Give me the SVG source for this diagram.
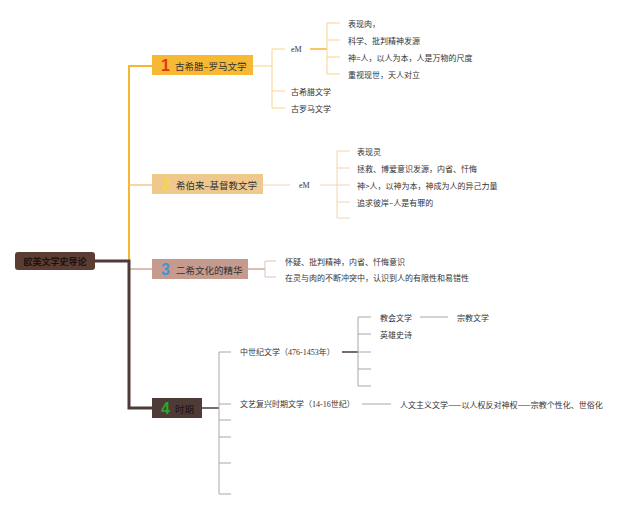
<svg xmlns="http://www.w3.org/2000/svg" width="640" height="508" viewBox="0 0 640 508">
<style>
text{font-family:"Noto Sans CJK SC","Liberation Sans",sans-serif;dominant-baseline:central;fill:#333}
.s{font-size:8px}
.m{font-size:9.5px;fill:#333}
.n{font-size:16px;font-weight:bold;font-family:"Liberation Sans","Noto Sans CJK SC",sans-serif}
.se{font-family:"Liberation Serif","Noto Sans CJK SC",serif}
.l{fill:none;stroke-linecap:butt}
</style>
<rect width="640" height="508" fill="#fff"/>
<g id="connectors">
<path class="l" d="M129 261V66H152" stroke="#f5b731" stroke-width="2"/>
<path class="l" d="M129 185H152" stroke="#f0c98a" stroke-width="1.5"/>
<path class="l" d="M129 269H152" stroke="#d4a59a" stroke-width="1.5"/>
<path class="l" d="M95 261H129V408H152" stroke="#4e3b38" stroke-width="3"/>
<g stroke="#fad58a" stroke-width="1" fill="none">
<path d="M253 66H272M272 49V108M272 49H285M272 91H285M272 108H285"/>
<path d="M310 49H327" stroke="#f5b731" stroke-width="1.5"/>
<path d="M327 23V74M327 23H340M327 40H340M327 57H340M327 74H340"/>
</g>
<g stroke="#f0d3b0" stroke-width="1" fill="none">
<path d="M263 185H290M320 185H337M337 151V218M337 151H350M337 168H350M337 185H350M337 202H350M337 218H350"/>
</g>
<g stroke="#d9c3bd" stroke-width="1" fill="none">
<path d="M248 269H265" stroke="#d4a59a" stroke-width="1.5"/>
<path d="M265 261V277M265 261H276M265 277H276"/>
</g>
<g stroke="#a8a8a8" stroke-width="1" fill="none">
<path d="M202 408H219" stroke="#4e3b38" stroke-width="1.5"/>
<path d="M219 352V494M219 352H231M219 404H231M219 420H231M219 437H231M219 463H231M219 494H231"/>
<path d="M342 352H358" stroke="#4e3b38" stroke-width="1.5"/>
<path d="M358 317V386M358 317H371M358 334H371M358 352H371M358 369H371M358 386H371"/>
<path d="M420 317H448"/>
<path d="M362 404H391"/>
</g>
</g>
<g id="root">
<rect x="15" y="252" width="80" height="18" rx="3" fill="#5c3d33"/>
<text x="55" y="261.5" text-anchor="middle" style="font-size:9px;font-weight:bold;fill:#1e1210">欧美文学史导论</text>
</g>
<g id="node1">
<rect x="152" y="55" width="101" height="20" fill="#f7b934"/>
<text class="n" x="161" y="65.5" fill="#e8321c" style="fill:#e8321c">1</text>
<text class="m" x="175" y="65.5">古希腊–罗马文学</text>
</g>
<g id="node1-children">
<text class="s se" x="291" y="49">eM</text>
<text class="s" x="291" y="91">古希腊文学</text>
<text class="s" x="291" y="108">古罗马文学</text>
<text class="s" x="348" y="23">表现肉，</text>
<text class="s" x="348" y="40">科学、批判精神发源</text>
<text class="s" x="348" y="57">神=人，以人为本，人是万物的尺度</text>
<text class="s" x="348" y="74">重视现世，天人对立</text>
</g>
<g id="node2">
<rect x="152" y="174" width="111" height="20" fill="#efc88d"/>
<text class="n" x="161" y="184.5" style="fill:#f8d648">2</text>
<text class="m" x="176" y="184.5">希伯来–基督教文学</text>
</g>
<g id="node2-children">
<text class="s se" x="299" y="185">eM</text>
<text class="s" x="357" y="151">表现灵</text>
<text class="s" x="357" y="168">拯救、博爱意识发源，内省、忏悔</text>
<text class="s" x="357" y="185">神&gt;人，以神为本，神成为人的异己力量</text>
<text class="s" x="357" y="202">追求彼岸–人是有罪的</text>
</g>
<g id="node3">
<rect x="152" y="259" width="96" height="20" fill="#c69a8c"/>
<text class="n" x="161" y="269.5" style="fill:#3a98d8">3</text>
<text class="m" x="176" y="269.5">二希文化的精华</text>
</g>
<g id="node3-children">
<text class="s" x="285" y="261">怀疑、批判精神，内省、忏悔意识</text>
<text class="s" x="285" y="277">在灵与肉的不断冲突中，认识到人的有限性和易错性</text>
</g>
<g id="node4">
<rect x="152" y="398" width="50" height="20" fill="#4e3b38"/>
<text class="n" x="161" y="408.5" style="fill:#2ea52e">4</text>
<text class="m" x="175" y="408.5" style="fill:#1e1210">时期</text>
</g>
<g id="node4-children">
<text class="s se" x="240" y="352">中世纪文学（476-1453年）</text>
<text class="s" x="380" y="317">教会文学</text>
<text class="s" x="457" y="317">宗教文学</text>
<text class="s" x="380" y="334">英雄史诗</text>
<text class="s se" x="240" y="404">文艺复兴时期文学（14-16世纪）</text>
<text class="s" x="400" y="404">人文主义文学——以人权反对神权——宗教个性化、世俗化</text>
</g>
</svg>
